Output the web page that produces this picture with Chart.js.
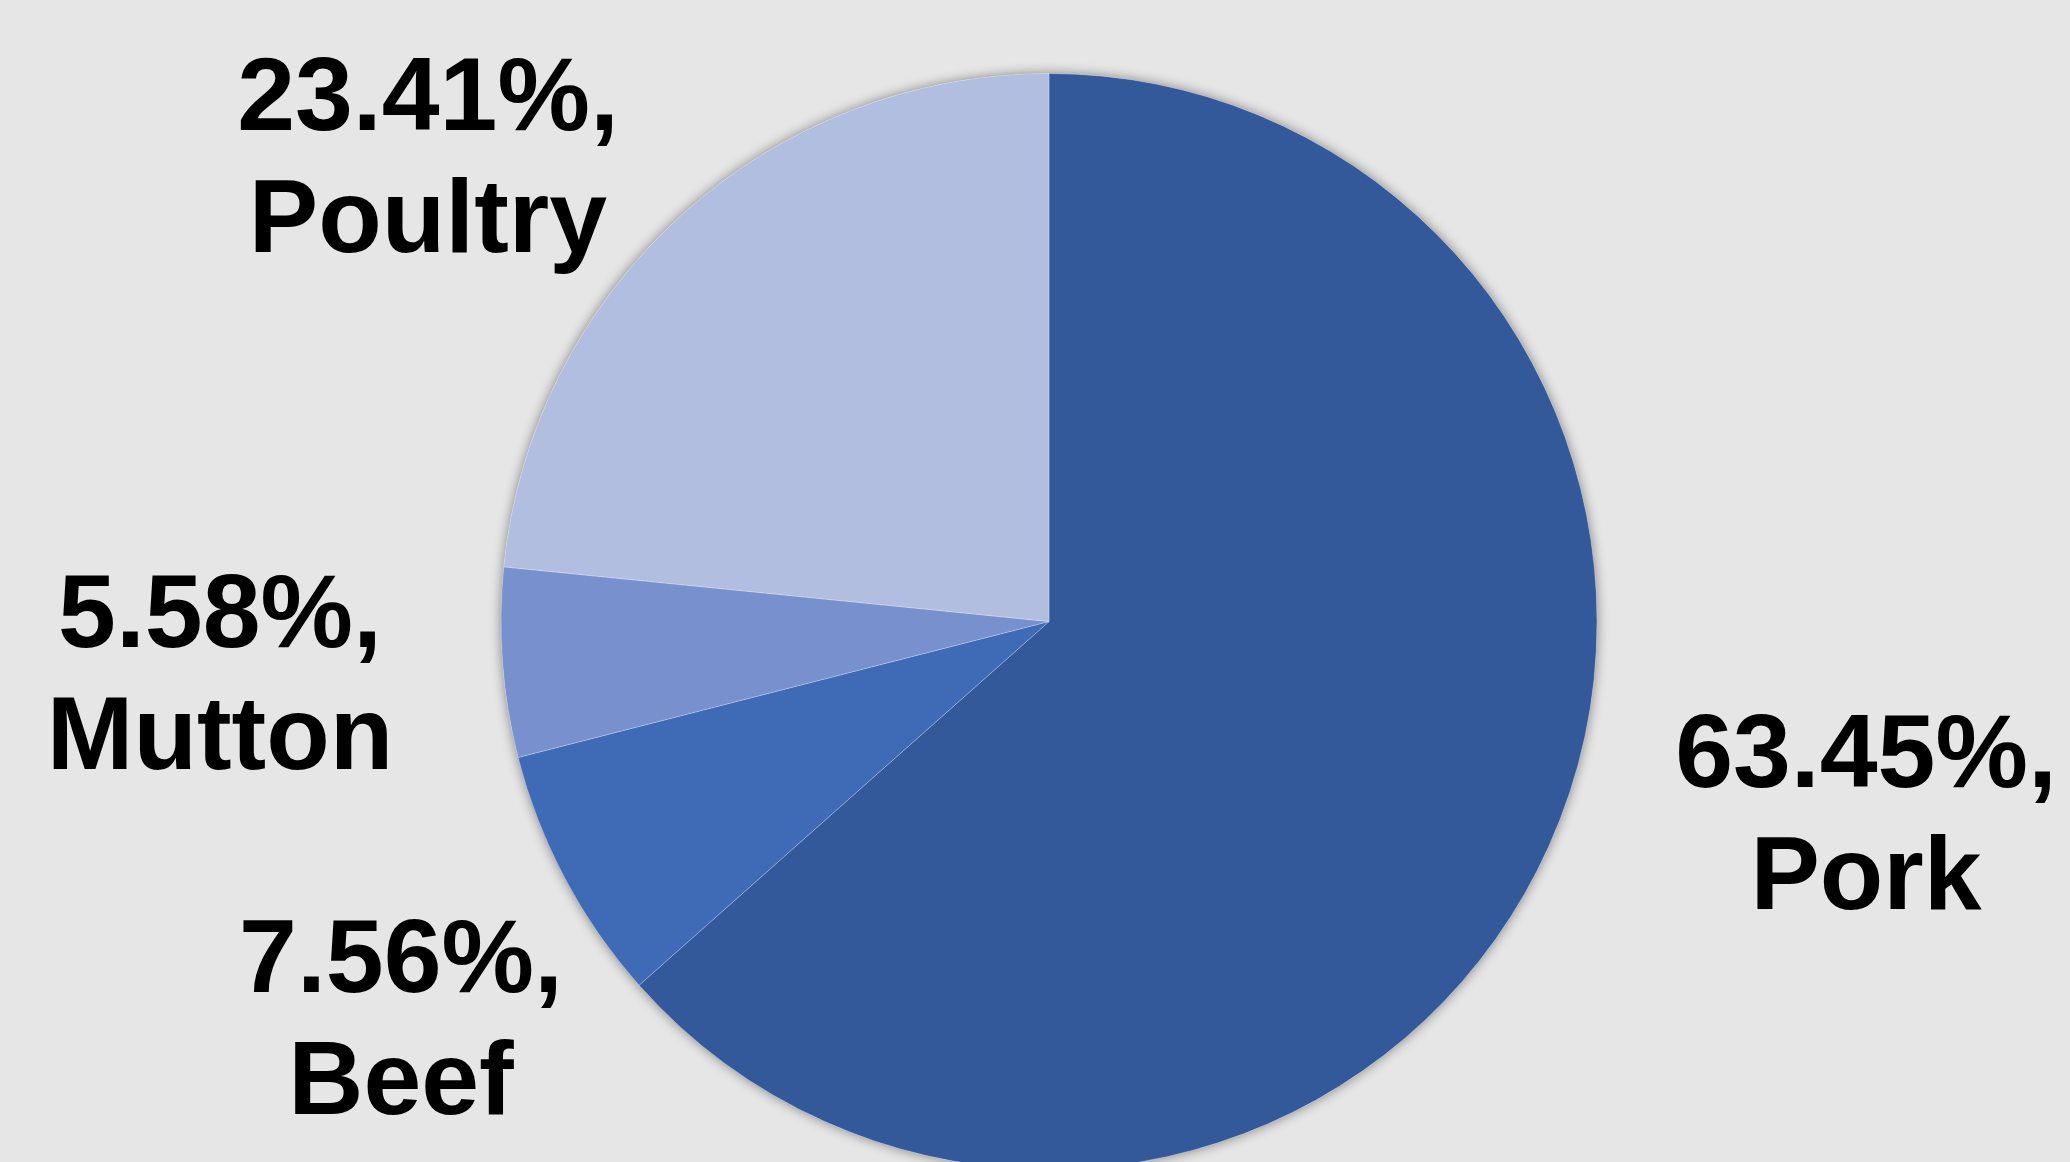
<!DOCTYPE html>
<html>
<head>
<meta charset="utf-8">
<script src="https://cdn.jsdelivr.net/npm/chart.js@4"></script>
<style>
    html, body { margin: 0; padding: 0; background: #e6e6e6; overflow: hidden; }
    .wrap { position: relative; width: 2070px; height: 1162px; overflow: hidden; }
    .wrap canvas { position: absolute; left: 0; top: 0; }
</style>
</head>
<body>
<div class="wrap"><canvas id="meatPie" width="2070" height="1200"></canvas></div>
<script>
const categories = ['Pork', 'Beef', 'Mutton', 'Poultry'];
const shares = [63.45, 7.56, 5.58, 23.41];
const sliceColors = ['#33599a', '#3e6ab6', '#7891ce', '#b1bedf'];

// where each two-line label sits (centre x, first baseline y)
const labelSpots = [
    { x: 1866, y: 787 },
    { x: 401, y: 992 },
    { x: 220, y: 647 },
    { x: 428, y: 130 }
];

const pieShadow = {
    id: 'pieShadow',
    beforeDatasetsDraw(chart) {
        const arc = chart.getDatasetMeta(0).data[0];
        if (!arc) return;
        const ctx = chart.ctx;
        ctx.save();
        ctx.shadowColor = 'rgba(0,0,0,0.45)';
        ctx.shadowBlur = 12;
        ctx.fillStyle = '#e6e6e6';
        ctx.beginPath();
        ctx.arc(arc.x, arc.y, arc.outerRadius, 0, Math.PI * 2);
        ctx.fill();
        ctx.restore();
    }
};

const sliceLabels = {
    id: 'sliceLabels',
    afterDatasetsDraw(chart) {
        const ctx = chart.ctx;
        ctx.save();
        ctx.font = 'bold 104px "Liberation Sans", Arial, sans-serif';
        ctx.fillStyle = '#000';
        ctx.textAlign = 'center';
        ctx.textBaseline = 'alphabetic';
        categories.forEach((name, i) => {
            const spot = labelSpots[i];
            ctx.fillText(shares[i].toFixed(2) + '%,', spot.x, spot.y);
            ctx.fillText(name, spot.x, spot.y + 122);
        });
        ctx.restore();
    }
};

new Chart(document.getElementById('meatPie'), {
    type: 'pie',
    data: {
        labels: categories,
        datasets: [{
            data: shares,
            backgroundColor: sliceColors,
            borderColor: 'rgba(255,255,255,0.25)',
            borderWidth: 1
        }]
    },
    options: {
        responsive: false,
        animation: false,
        rotation: 0,
        layout: { padding: { left: 500, right: 472, top: 73, bottom: 30 } },
        plugins: { legend: { display: false }, tooltip: { enabled: false } }
    },
    plugins: [pieShadow, sliceLabels]
});
</script>
</body>
</html>
